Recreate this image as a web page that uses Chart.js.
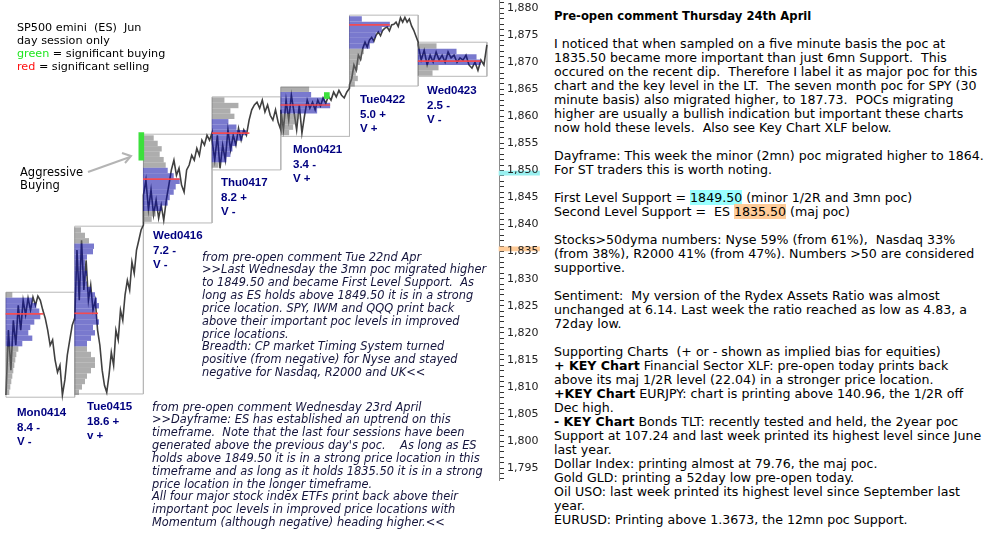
<!DOCTYPE html>
<html>
<head>
<meta charset="utf-8">
<script src="https://cdn.jsdelivr.net/npm/chart.js@4.4.1/dist/chart.umd.min.js"></script>
<style>
  body { margin: 0; background: #fff; }
  #page { position: relative; width: 993px; height: 550px; overflow: hidden; font-family: 'DejaVu Sans', Verdana, sans-serif; color: #000; }
  #chart { position: absolute; left: 0; top: 0; }
  .note { position: absolute; white-space: pre; }
  .day { position: absolute; white-space: pre; font-family: 'Liberation Sans', Arial, sans-serif; font-weight: bold; font-size: 11.5px; line-height: 14.5px; color: #000080; }
  .comment { position: absolute; white-space: pre; font-style: italic; font-size: 11.4px; line-height: 12.85px; color: #14143c; }
  #panel { position: absolute; left: 554px; top: 9px; font-size: 12.6px; line-height: 14px; white-space: pre; }
  #panel .title { font-size: 11.6px; font-weight: bold; }
  .hl1 { background: #99ffff; }
  .hl2 { background: #ffcc99; }
</style>
</head>
<body>
<div id="page">
  <canvas id="chart" width="545" height="550"></canvas>

  <svg style="position:absolute;left:0;top:0" width="545" height="550">
    <line x1="88" y1="172" x2="130" y2="157" stroke="#b4b4b4" stroke-width="2"/>
    <polyline points="122,153 131,156 125,163" fill="none" stroke="#b4b4b4" stroke-width="2"/>
  </svg>

  <div class="note" style="left:17px;top:21px;font-size:11.2px;line-height:13px">SP500 emini  (ES)  Jun<br>day session only<br><span style="color:#1ee61e">green</span> = significant buying<br><span style="color:#ff1010">red</span> = significant selling</div>
  <div class="note" style="left:20px;top:166px;font-size:11.5px;line-height:13px">Aggressive<br>Buying</div>

  <div id="dayLabels"></div>

  <div class="comment" style="left:202px;top:250.5px">from pre-open comment Tue 22nd Apr
&gt;&gt;Last Wednesday the 3mn poc migrated higher
to 1849.50 and became First Level Support.  As
long as ES holds above 1849.50 it is in a strong
price location. SPY, IWM and QQQ print back
above their important poc levels in improved
price locations.
Breadth: CP market Timing System turned
positive (from negative) for Nyse and stayed
negative for Nasdaq, R2000 and UK&lt;&lt;</div>

  <div class="comment" style="left:152px;top:400.5px">from pre-open comment Wednesday 23rd April
&gt;&gt;Dayframe: ES has established an uptrend on this
timeframe.  Note that the last four sessions have been
generated above the previous day's poc.    As long as ES
holds above 1849.50 it is in a strong price location in this
timeframe and as long as it holds 1835.50 it is in a strong
price location in the longer timeframe.
All four major stock index ETFs print back above their
important poc levels in improved price locations with
Momentum (although negative) heading higher.&lt;&lt;</div>

  <div id="panel"><span class="title">Pre-open comment Thursday 24th April</span>

I noticed that when sampled on a five minute basis the poc at
1835.50 became more important than just 6mn Support.  This
occured on the recent dip.  Therefore I label it as major poc for this
chart and the key level in the LT.  The seven month poc for SPY (30
minute basis) also migrated higher, to 187.73.  POCs migrating
higher are usually a bullish indication but important these charts
now hold these levels.  Also see Key Chart XLF below.

Dayframe: This week the minor (2mn) poc migrated higher to 1864.
For ST traders this is worth noting.

First Level Support = <span class="hl1">1849.50</span> (minor 1/2R and 3mn poc)
Second Level Support =  ES <span class="hl2">1835.50</span> (maj poc)

Stocks&gt;50dyma numbers: Nyse 59% (from 61%),  Nasdaq 33%
(from 38%), R2000 41% (from 47%). Numbers &gt;50 are considered
supportive.

Sentiment:  My version of the Rydex Assets Ratio was almost
unchanged at 6.14. Last week the ratio reached as low as 4.83, a
72day low.

Supporting Charts  (+ or - shown as implied bias for equities)
<b>+ KEY Chart</b> Financial Sector XLF: pre-open today prints back
above its maj 1/2R level (22.04) in a stronger price location.
<b>+KEY Chart</b> EURJPY: chart is printing above 140.96, the 1/2R off
Dec high.
<b>- KEY Chart</b> Bonds TLT: recently tested and held, the 2year poc
Support at 107.24 and last week printed its highest level since June
last year.
Dollar Index: printing almost at 79.76, the maj poc.
Gold GLD: printing a 52day low pre-open today.
Oil USO: last week printed its highest level since September last
year.
EURUSD: Printing above 1.3673, the 12mn poc Support.</div>
</div>

<script>
// Sessions (day session only, ES Jun)
const sessions = ['Mon0414', 'Tue0415', 'Wed0416', 'Thu0417', 'Mon0421', 'Tue0422', 'Wed0423'];
const sessionRange = ['8.4 -', '18.6 +', '7.2 -', '8.2 +', '3.4 -', '5.0 +', '2.5 -'];
const sessionVolume = ['V -', 'v +', 'V -', 'V -', 'V +', 'V +', 'V -'];

// session high / low boxes
const boxHigh = [1827.5, 1839.7, 1856.7, 1863.6, 1865.4, 1878.7, 1873.7];
const boxLow = [1808.1, 1808.7, 1840.3, 1850.1, 1856.3, 1865.6, 1867.4];

// intraday prices
const mon0414 = [1808.5, 1820.5, 1813.1, 1822.3, 1817.7, 1825.1, 1820.5, 1826.0, 1823.3, 1826.4, 1824.2, 1826.6, 1825.1, 1826.8, 1826.0, 1824.2, 1822.7, 1820.5, 1817.7, 1818.7, 1815.0, 1812.7, 1814.0, 1808.5, 1811.3, 1815.9, 1818.7, 1821.4, 1822.7];
const tue0415 = [1822.3, 1835.3, 1826.0, 1837.1, 1827.9, 1833.4, 1826.0, 1828.8, 1824.2, 1826.0, 1820.5, 1817.7, 1813.1, 1810.3, 1809.0, 1812.2, 1816.4, 1814.0, 1820.5, 1818.7, 1824.2, 1822.3, 1827.0, 1829.7, 1827.9, 1833.1, 1831.0, 1835.3, 1837.1, 1839.0, 1839.9];
const wed0416 = [1845.4, 1848.2, 1842.7, 1846.4, 1841.8, 1844.5, 1841.2, 1843.6, 1840.8, 1844.5, 1847.3, 1850.1, 1851.9, 1849.1, 1850.4, 1847.3, 1846.0, 1850.1, 1851.0, 1852.8, 1851.9, 1854.1, 1852.8, 1855.6, 1854.7, 1856.5, 1855.6, 1857.0];
const thu0417 = [1855.6, 1851.9, 1856.5, 1850.4, 1854.7, 1851.9, 1857.5, 1853.8, 1856.5, 1854.7, 1857.8, 1855.6, 1857.5, 1856.5, 1859.3, 1861.2, 1862.1, 1862.6, 1861.5, 1863.0, 1860.8, 1862.1, 1860.2, 1859.3, 1861.2, 1858.9, 1857.5];
const mon0421 = [1861.2, 1857.5, 1863.0, 1859.3, 1863.9, 1860.8, 1857.5, 1862.1, 1856.9, 1860.2, 1863.0, 1861.5, 1862.6, 1861.2, 1863.0, 1861.9, 1863.4, 1862.4, 1863.7, 1863.0, 1864.5, 1863.6, 1864.8, 1863.9, 1863.4, 1864.5, 1865.2];
const tue0422 = [1865.8, 1867.0, 1869.5, 1868.5, 1871.3, 1870.5, 1872.6, 1873.7, 1872.8, 1874.1, 1874.6, 1873.9, 1875.0, 1875.6, 1874.9, 1875.9, 1876.3, 1876.5, 1875.8, 1876.9, 1877.0, 1877.4, 1876.6, 1878.2, 1877.4, 1878.3, 1877.4, 1878.0, 1876.7, 1875.9, 1874.8, 1873.7];
const wed0423 = [1873.2, 1870.4, 1872.2, 1869.5, 1871.3, 1870.0, 1871.9, 1870.4, 1871.3, 1870.0, 1871.9, 1870.8, 1871.3, 1870.0, 1870.8, 1870.4, 1871.3, 1869.5, 1868.9, 1870.0, 1868.5, 1870.4, 1869.5, 1873.2];
const priceDays = [mon0414, tue0415, wed0416, thu0417, mon0421, tue0422, wed0423];

// volume profiles: one row per point, starting at profileBase
const profileBase = [1809, 1809, 1841, 1851, 1857, 1866, 1868];
const profMon0414 = [3, 4, 5, 6, 7, 8, 9, 10, 12, 16, 26, 22, 24, 28, 34, 33, 30, 26, 6];
const profTue0415 = [4, 7, 10, 12, 16, 20, 20, 16, 12, 12, 16, 20, 18, 24, 22, 20, 24, 22, 20, 16, 12, 11, 12, 10, 10, 12, 18, 19, 14, 10, 6];
const profWed0416 = [8, 12, 18, 24, 26, 30, 32, 36, 30, 24, 22, 20, 16, 18, 14, 10];
const profThu0417 = [6, 14, 18, 20, 24, 30, 34, 24, 16, 22, 18, 26, 12];
const profMon0421 = [8, 12, 16, 18, 36, 49, 44, 30, 28];
const profTue0422 = [5, 8, 6, 8, 10, 12, 14, 20, 24, 26, 32, 40, 12];
const profWed0423 = [14, 20, 62, 58, 38, 18];
const profiles = [profMon0414, profTue0415, profWed0416, profThu0417, profMon0421, profTue0422, profWed0423];
const valueLow = [1818, 1818, 1843, 1852, 1861, 1873, 1870];
const valueHigh = [1826, 1836, 1850, 1859, 1864, 1878, 1872];
const pocPrice = [1823.5, 1823.6, 1848.4, 1856.9, 1862.1, 1876.9, 1870.2];
const pocVolume = [37, 23, 36, 37, 49, 40, 62];

// significant buying marks (session position, low, high)
const buyAt = [1.97, 4.67];
const buyLow = [1851.9, 1863.3];
const buyHigh = [1857.0, 1864.4];

// support levels marked on the axis
const supportLevels = [1849.5, 1835.5];
const supportColors = ['#99f0f0', '#ffcc99'];

// y axis
const yMin = 1792.8, yMax = 1881.5;

const X_MIN = -0.087, X_MAX = 7.176;
const VOL_TO_SESSION = 1 / 68.7;

// day labels
const labelBox = document.getElementById('dayLabels');
const labelPos = [[17, 405], [87, 399], [153, 228], [221, 175], [293, 142], [360, 92], [427, 83]];
sessions.forEach((s, i) => {
  const d = document.createElement('div');
  d.className = 'day';
  d.style.left = labelPos[i][0] + 'px';
  d.style.top = labelPos[i][1] + 'px';
  d.innerHTML = s + '<br>' + sessionRange[i] + '<br>' + sessionVolume[i];
  labelBox.appendChild(d);
});

// build datasets
const priceData = [];
priceDays.forEach((arr, d) => {
  arr.forEach((p, i) => priceData.push({ x: d + i / (arr.length - 1), y: p }));
});

const boxData = [];
boxHigh.forEach((hi, d) => {
  const lo = boxLow[d];
  boxData.push({ x: d, y: hi }, { x: d + 1, y: hi }, { x: d + 1, y: lo }, { x: d, y: lo }, { x: d, y: hi }, { x: d, y: null });
});

const valueRows = [], outerRows = [];
profiles.forEach((rows, d) => {
  rows.forEach((v, k) => {
    const price = profileBase[d] + k;
    const row = { y: price, x: [d, d + v * VOL_TO_SESSION] };
    if (price >= valueLow[d] && price <= valueHigh[d]) valueRows.push(row);
    else outerRows.push(row);
  });
});

const pocRows = pocPrice.map((p, d) => ({ y: p, x: [d, d + pocVolume[d] * VOL_TO_SESSION] }));
const buyBars = buyAt.map((x, i) => ({ x: x, y: [buyLow[i], buyHigh[i]] }));
const levelBars = supportLevels.map(l => ({ y: l, x: [X_MAX, X_MAX + 0.59] }));

new Chart(document.getElementById('chart'), {
  type: 'line',
  data: {
    datasets: [
      {
        type: 'line', data: boxData, borderColor: '#b8b8b8', borderWidth: 1,
        pointRadius: 0, spanGaps: false, tension: 0, order: 6
      },
      {
        type: 'line', data: priceData, borderColor: '#404040', borderWidth: 1.6,
        pointRadius: 0, tension: 0, order: 5
      },
      {
        type: 'bar', indexAxis: 'y', data: outerRows, backgroundColor: 'rgba(105,105,105,0.55)',
        barThickness: 4.7, grouped: false, order: 4
      },
      {
        type: 'bar', indexAxis: 'y', data: valueRows, backgroundColor: 'rgba(8,8,165,0.54)',
        barThickness: 4.7, grouped: false, order: 3
      },
      {
        type: 'bar', indexAxis: 'y', data: pocRows, backgroundColor: 'rgba(255,70,70,0.9)',
        barThickness: 1, grouped: false, order: 2
      },
      {
        type: 'bar', indexAxis: 'x', data: buyBars, backgroundColor: '#3ce03c',
        barThickness: 5, grouped: false, order: 1
      },
      {
        type: 'bar', indexAxis: 'y', data: levelBars, backgroundColor: supportColors,
        barThickness: 4, grouped: false, clip: false, order: 0
      }
    ]
  },
  options: {
    responsive: false,
    animation: false,
    layout: { padding: { left: 0, top: 0, right: 0, bottom: 70 } },
    plugins: { legend: { display: false }, tooltip: { enabled: false } },
    scales: {
      x: { type: 'linear', display: false, offset: false, min: X_MIN, max: X_MAX },
      y: {
        type: 'linear', position: 'right', offset: false, min: yMin, max: yMax,
        border: { color: '#8c8c8c' },
        grid: { drawOnChartArea: false, offset: false, tickLength: 5, tickColor: '#333' },
        ticks: {
          stepSize: 1, autoSkip: false, includeBounds: false, padding: 3, z: 1,
          color: '#222', font: { family: 'DejaVu Sans', size: 11 },
          callback: v => (v % 5 === 0 ? v.toLocaleString('en-US') : '')
        },
        afterFit: s => { s.width = 46; s.paddingTop = 0; s.paddingBottom = 0; }
      }
    }
  }
});
</script>
</body>
</html>
